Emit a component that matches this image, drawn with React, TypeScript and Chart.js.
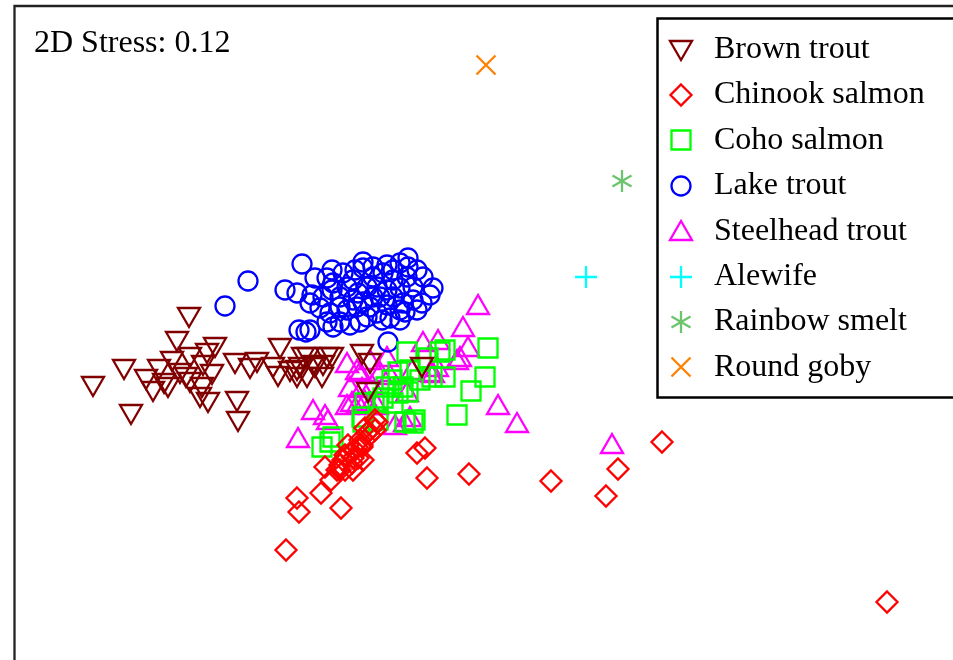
import React, { useEffect, useRef } from 'react';
import { Chart, registerables } from 'chart.js';

Chart.register(...registerables);

type P = [number, number];

// NMDS ordination scores (x right, y down, plot units)
const brownTrout: P[] = [
  [189, 317], [177, 341], [124, 369], [93, 386], [131, 414], [146, 379], [159, 369], [153, 391],
  [172, 361], [168, 387], [180, 373], [190, 357], [190, 382], [207, 353], [215, 347], [203, 365],
  [212, 374], [202, 387], [208, 402], [200, 397], [237, 401], [238, 421], [235, 363], [250, 368],
  [257, 362], [280, 348], [278, 376], [290, 371], [297, 377], [308, 357], [313, 365], [307, 377],
  [323, 365], [332, 357], [322, 377], [362, 354], [370, 363], [368, 392], [422, 367], [273, 367],
  [300, 367], [327, 357], [164, 383], [186, 377], [303, 357], [315, 367], [297, 370],
];

const chinookSalmon: P[] = [
  [286, 550], [297, 498], [299, 512], [321, 493], [341, 508], [331, 480], [325, 467], [337, 470],
  [343, 460], [350, 453], [357, 447], [360, 440], [367, 433], [373, 427], [353, 470], [363, 460],
  [345, 455], [340, 465], [348, 445], [355, 450], [358, 458], [352, 463], [362, 445], [370, 435],
  [365, 428], [377, 422], [375, 430], [340, 470], [353, 458], [362, 447], [345, 470], [375, 420],
  [417, 453], [425, 448], [427, 478], [469, 474], [551, 481], [606, 496], [618, 469], [662, 442],
  [887, 602],
];

const cohoSalmon: P[] = [
  [488, 348], [485, 377], [471, 391], [457, 415], [445, 350], [445, 377], [440, 352], [407, 352],
  [428, 358], [398, 372], [432, 377], [392, 380], [403, 387], [386, 387], [383, 398], [398, 393],
  [408, 392], [378, 402], [415, 420], [405, 422], [365, 403], [362, 417], [322, 447], [333, 437],
  [330, 442], [363, 422], [378, 420], [413, 423], [393, 403], [410, 370], [420, 380],
];

const lakeTrout: P[] = [
  [248, 281], [225, 306], [302, 264], [285, 290], [297, 293], [315, 278], [299, 330], [306, 332],
  [310, 330], [388, 342], [327, 278], [333, 283], [343, 273], [363, 262], [363, 268], [387, 265],
  [400, 263], [408, 258], [408, 267], [423, 277], [433, 288], [430, 295], [422, 303], [413, 300],
  [405, 312], [400, 320], [390, 318], [377, 313], [367, 317], [350, 325], [340, 322], [330, 313],
  [320, 308], [310, 303], [312, 295], [323, 297], [332, 290], [340, 297], [347, 287], [353, 280],
  [358, 293], [363, 302], [357, 307], [347, 310], [373, 277], [377, 287], [380, 297], [387, 305],
  [370, 307], [393, 280], [400, 288], [407, 277], [413, 287], [393, 297], [403, 303], [383, 273],
  [355, 270], [367, 287], [373, 267], [332, 270], [387, 290], [353, 300], [373, 297], [340, 307],
  [400, 310], [417, 270], [393, 270], [360, 322], [333, 327], [327, 322], [382, 320], [417, 310],
];

const steelheadTrout: P[] = [
  [478, 305], [463, 327], [468, 347], [460, 357], [498, 405], [517, 423], [612, 444], [438, 340],
  [423, 342], [457, 360], [347, 363], [357, 370], [370, 360], [387, 357], [430, 372], [437, 367],
  [433, 373], [350, 387], [362, 388], [347, 405], [352, 402], [313, 410], [325, 415], [328, 420],
  [298, 438], [358, 403], [365, 401], [377, 405], [395, 425], [405, 422], [410, 417], [360, 372],
  [380, 372], [372, 385], [390, 375], [407, 392], [412, 370], [370, 405],
];

const alewife: P[] = [[586, 277]];
const rainbowSmelt: P[] = [[622, 181]];
const roundGoby: P[] = [[486, 65]];

const seriesNames = [
  'Brown trout', 'Chinook salmon', 'Coho salmon', 'Lake trout',
  'Steelhead trout', 'Alewife', 'Rainbow smelt', 'Round goby',
];
const seriesData = [
  brownTrout, chinookSalmon, cohoSalmon, lakeTrout,
  steelheadTrout, alewife, rainbowSmelt, roundGoby,
];
const seriesColors = [
  '#800000', '#ff0000', '#00ff00', '#0000ff', '#ff00ff', '#00ffff', '#6cc46c', '#ff8000',
];
const seriesShapes = ['tdown', 'diamond', 'square', 'circle', 'tup', 'plus', 'star', 'x'];

const stressLabel = '2D Stress: 0.12';

function makeMarker(kind: string, color: string): HTMLCanvasElement {
  const s = 32;
  const c = document.createElement('canvas');
  c.width = s;
  c.height = s;
  const g = c.getContext('2d')!;
  g.strokeStyle = color;
  g.lineWidth = 2.3;
  const m = s / 2;
  g.beginPath();
  switch (kind) {
    case 'tdown':
      g.moveTo(m - 11, m - 9);
      g.lineTo(m + 11, m - 9);
      g.lineTo(m, m + 10);
      g.closePath();
      break;
    case 'tup':
      g.moveTo(m - 11, m + 9);
      g.lineTo(m + 11, m + 9);
      g.lineTo(m, m - 10);
      g.closePath();
      break;
    case 'diamond': {
      const r = 10.5;
      g.moveTo(m, m - r);
      g.lineTo(m + r, m);
      g.lineTo(m, m + r);
      g.lineTo(m - r, m);
      g.closePath();
      break;
    }
    case 'square':
      g.rect(m - 9.5, m - 9.5, 19, 19);
      break;
    case 'circle':
      g.arc(m, m, 9.5, 0, Math.PI * 2);
      break;
    case 'plus':
      g.moveTo(m - 11, m);
      g.lineTo(m + 11, m);
      g.moveTo(m, m - 11);
      g.lineTo(m, m + 11);
      break;
    case 'star': {
      const r = 11;
      for (let k = 0; k < 3; k++) {
        const a = Math.PI / 2 + (k * Math.PI) / 3;
        g.moveTo(m + Math.cos(a) * r, m + Math.sin(a) * r);
        g.lineTo(m - Math.cos(a) * r, m - Math.sin(a) * r);
      }
      break;
    }
    case 'x': {
      const r = 9.5;
      g.moveTo(m - r, m - r);
      g.lineTo(m + r, m + r);
      g.moveTo(m - r, m + r);
      g.lineTo(m + r, m - r);
      break;
    }
  }
  g.stroke();
  return c;
}

export default function App() {
  const ref = useRef<HTMLCanvasElement | null>(null);

  useEffect(() => {
    document.body.style.margin = '0';
    const canvas = ref.current;
    if (!canvas) return;
    const markers = seriesShapes.map((k, i) => makeMarker(k, seriesColors[i]));

    const overlay = {
      id: 'overlay',
      afterDraw(chart: any) {
        const ctx = chart.ctx as CanvasRenderingContext2D;
        const a = chart.chartArea;
        ctx.save();
        // frame (left and top edges visible)
        ctx.strokeStyle = '#222';
        ctx.lineWidth = 2.3;
        ctx.beginPath();
        ctx.moveTo(a.left + 0.5, chart.height + 2);
        ctx.lineTo(a.left + 0.5, a.top);
        ctx.lineTo(chart.width + 2, a.top);
        ctx.stroke();

        // stress label
        ctx.fillStyle = '#000';
        ctx.font = '32px "Liberation Serif", "Times New Roman", serif';
        ctx.textBaseline = 'alphabetic';
        ctx.textAlign = 'left';
        ctx.fillText(stressLabel, 34, 52);

        // legend box
        ctx.fillStyle = '#fff';
        ctx.fillRect(657, 18.5, 320, 379);
        ctx.strokeStyle = '#000';
        ctx.lineWidth = 2.5;
        ctx.strokeRect(657.5, 18.5, 320, 379);
        ctx.fillStyle = '#000';
        seriesNames.forEach((name, i) => {
          const base = 58 + i * 45.4;
          const mk = markers[i];
          ctx.drawImage(mk, 681 - mk.width / 2, Math.round(base - 8.5) - mk.height / 2);
          ctx.fillText(name, 714, base);
        });
        ctx.restore();
      },
    };

    const chart = new Chart(canvas, {
      type: 'scatter',
      data: {
        datasets: seriesData.map((d, i) => ({
          label: seriesNames[i],
          data: d.map(([x, y]) => ({ x, y })),
          pointStyle: markers[i] as any,
          pointRadius: 10,
          pointHoverRadius: 10,
          borderColor: seriesColors[i],
          backgroundColor: 'transparent',
        })),
      },
      options: {
        animation: false,
        responsive: false,
        devicePixelRatio: 1,
        events: [],
        layout: { autoPadding: false, padding: { left: 14, top: 6, right: 0, bottom: 0 } },
        plugins: {
          legend: { display: false },
          title: { display: false },
          tooltip: { enabled: false },
        },
        scales: {
          x: { type: 'linear', display: false, min: 14, max: 953 },
          y: { type: 'linear', display: false, reverse: true, min: 6, max: 660 },
        },
      },
      plugins: [overlay],
    });
    return () => chart.destroy();
  }, []);

  return (
    <div style={{ position: 'fixed', left: 0, top: 0, width: 953, height: 660, background: '#fff' }}>
      <canvas ref={ref} width={953} height={660} style={{ display: 'block' }} />
    </div>
  );
}
